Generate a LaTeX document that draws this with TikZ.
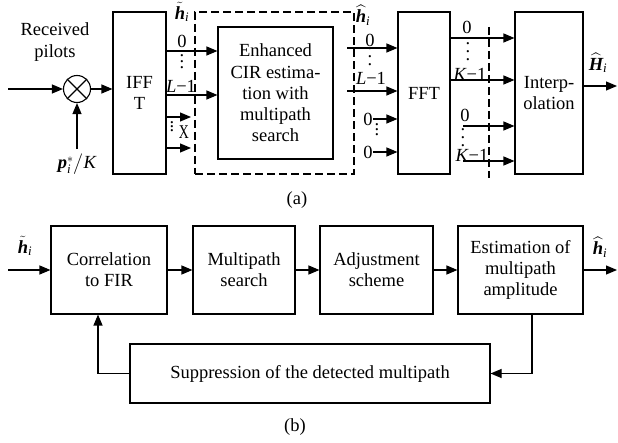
\documentclass[tikz,border=0pt]{standalone}
\usepackage{fontspec}
\setmainfont{Liberation Serif}
\usepackage{amsmath}
\usetikzlibrary{arrows.meta,calc}
\newcommand{\bhv}{\text{\bfseries\itshape h}}
\newcommand{\bHv}{\text{\bfseries\itshape H}}
\newcommand{\bpv}{\text{\bfseries\itshape p}}
\newcommand{\ii}{\text{\itshape i}}
\newcommand{\vd}[1]{\vbox{\baselineskip#1\lineskiplimit0pt\hbox{.}\hbox{.}\hbox{.}}}
\begin{document}
\begin{tikzpicture}[x=1pt,y=-1pt,
  font=\fontsize{18.5}{21.3}\selectfont,
  line width=1.1pt,
  arr/.style={-{Triangle[length=11pt,width=9pt]}},
  box/.style={draw,inner sep=0pt,align=center},
  dsh/.style={dash pattern=on 8pt off 4pt},
  lbl/.style={inner sep=0pt,align=center},
]
\useasboundingbox (0,0) rectangle (618,443);
% ---------------- (a) ----------------
\node[box,minimum width=53pt,minimum height=162pt] (ifft) at (139.5,93) {IFF\\T};
\node[draw,circle,minimum size=27pt,inner sep=0pt] (mul) at (77,89) {};
\draw (mul.north west) -- (mul.south east) (mul.north east) -- (mul.south west);
\node[lbl] (rp) at (55,42) {Received\\pilots};
\node[lbl] (pk) at (77,164) {$\bpv_{\ii}^{*}\big/\text{\itshape K}$};
\coordinate (in1) at (8,89);
\draw[arr] (in1) -- (mul);
\draw[arr] (mul) -- (ifft.west |- mul);
\draw[arr] ([yshift=4pt]pk.north) -- (mul.south);

\node[draw,dsh,minimum width=159pt,minimum height=162pt] (dbox) at (274.5,93) {};
\node[box,minimum width=115pt,minimum height=132pt] (enh) at (275.5,93) {Enhanced\\CIR estima-\\tion with\\multipath\\search};

\coordinate (ya) at (0,51);
\coordinate (yb) at (0,95);
\coordinate (xc) at (191,117);
\coordinate (xd) at (191,148);
\draw[arr] (ifft.east |- ya) -- (enh.west |- ya);
\draw[arr] (ifft.east |- yb) -- (enh.west |- yb);
\draw[arr] (ifft.east |- xc) -- (xc);
\draw[arr] (ifft.east |- xd) -- (xd);
\node[lbl] (ht1) at (182,12) {$\tilde{\bhv}_{\ii}$};
\node[lbl] (l0a) at (182,41) {0};
\node[lbl] (dta) at (182,62) {\vd{6pt}};
\node[lbl] (lLa) at (181,86) {\textit{L}−1};
\node[lbl] (dtb) at (172,127) {\vd{4pt}};
\node[lbl] (xx) at (184,132) {\scalebox{0.75}[1.05]{X}};

\node[box,minimum width=52pt,minimum height=162pt] (fft) at (424,93) {FFT};
\node[box,minimum width=68pt,minimum height=162pt] (itp) at (549,93) {Interp-\\olation};

\coordinate (sa) at (347,48);
\coordinate (sb) at (347,91);
\draw[arr] (sa) -- (fft.west |- sa);
\draw[arr] (sb) -- (fft.west |- sb);
\node[lbl] (hh1) at (363,15) {$\widehat{\bhv}_{\ii}$};
\node[lbl] (l0b) at (370,40) {0};
\node[lbl] (dtc) at (370,57) {\vd{8pt}};
\node[lbl] (lLb) at (371,78) {\textit{L}−1};
\node[lbl] (z1) at (368,119) {0};
\node[lbl] (z2) at (368,152) {0};
\draw[arr] (z1.east) -- (fft.west |- z1.east);
\draw[arr] (z2.east) -- (fft.west |- z2.east);
\node[lbl] (dtd) at (377,130) {\vd{5pt}};

\coordinate (ye) at (0,38);
\coordinate (yf) at (0,80);
\coordinate (sc) at (463,126);
\coordinate (sd) at (463,161);
\draw[arr] (fft.east |- ye) -- (itp.west |- ye);
\draw[arr] (fft.east |- yf) -- (itp.west |- yf);
\draw[arr] (sc) -- (itp.west |- sc);
\draw[arr] (sd) -- (itp.west |- sd);
\node[lbl] (l0c) at (467,27) {0};
\node[lbl] (dte) at (468,52) {\vd{8pt}};
\node[lbl] (lKa) at (470,74) {\textit{K}−1};
\node[lbl] (l0d) at (465,115) {0};
\node[lbl] (dtf) at (463,138) {\vd{8pt}};
\node[lbl] (lKb) at (472,155) {\textit{K}−1};
\coordinate (va) at (489,27);
\coordinate (vb) at (489,178);
\draw[dsh] (va) -- (vb);
\coordinate (oa) at (617,86);
\draw[arr] (itp.east |- oa) -- (oa);
\node[lbl] (Hh) at (598,63) {$\widehat{\bHv}_{\ii}$};
\node[lbl] (capa) at (297,200) {(a)};

% ---------------- (b) ----------------
\node[box,minimum width=116pt,minimum height=88pt] (corr) at (109,270) {Correlation\\to FIR};
\node[box,minimum width=102pt,minimum height=88pt] (mps) at (244,270) {Multipath\\search};
\node[box,minimum width=113pt,minimum height=88pt] (adj) at (376.5,270) {Adjustment\\scheme};
\node[box,minimum width=125pt,minimum height=88pt] (est) at (520.5,270) {Estimation of\\multipath\\amplitude};
\node[box,minimum width=360pt,minimum height=59pt] (sup) at (310,373.5) {Suppression of the detected multipath};
\coordinate (in2) at (8,270);
\coordinate (out2) at (617,270);
\draw[arr] (in2) -- (corr);
\draw[arr] (corr) -- (mps);
\draw[arr] (mps) -- (adj);
\draw[arr] (adj) -- (est);
\draw[arr] (est) -- (out2);
\node[lbl] (ht2) at (25,246) {$\tilde{\bhv}_{\ii}$};
\node[lbl] (hh2) at (600,247) {$\widehat{\bhv}_{\ii}$};
\coordinate (fb1) at (532,0);
\coordinate (fb2) at (98,0);
\draw[arr] (est.south -| fb1) |- (sup.east);
\draw[arr] (sup.west) -| (fb2 |- corr.south);
\node[lbl] (capb) at (295,427) {(b)};
\end{tikzpicture}
\end{document}
